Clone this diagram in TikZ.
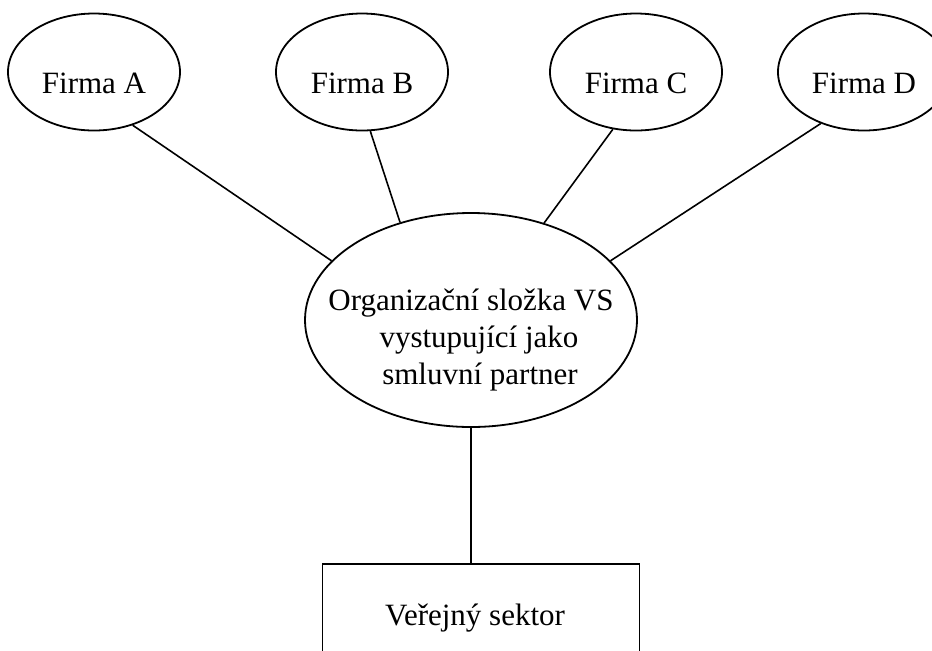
\documentclass[tikz,border=0pt]{standalone}
\usepackage{fontspec}
\setmainfont{Liberation Serif}
\usetikzlibrary{shapes.geometric}

\begin{document}
\begin{tikzpicture}[
    x=0.5pt, y=-0.5pt,
    font=\fontsize{15.5}{18.5}\selectfont,
    firma/.style={draw, ellipse, line width=0.9pt, inner sep=0pt, minimum width=86pt, minimum height=58.5pt, text height=21.5pt, text depth=0pt},
    partner/.style={draw, ellipse, line width=0.9pt, inner xsep=-20pt, inner ysep=0pt, minimum width=166pt, minimum height=107pt},
    box/.style={draw, line width=0.9pt, minimum width=158.5pt, minimum height=54pt},
    link/.style={line width=0.8pt}
  ]
    \useasboundingbox (0,0) rectangle (932,650);
    \clip (0,0) rectangle (932,650);
    \node[firma] (firmaA) at (94,72) {Firma A};
    \node[firma] (firmaB) at (362,72) {Firma B};
    \node[firma] (firmaC) at (636,72) {Firma C};
    \node[firma] (firmaD) at (864,72) {Firma D};
    \node[partner] (vs) at (471,320) {\raisebox{-10pt}[\height][\depth]{\begin{tabular}{@{}c@{}}Organizační složka VS\\\hspace*{8pt}vystupující jako\\\hspace*{9pt}smluvní partner\end{tabular}}};
    \node[box] (sektor) at (481,618) {Veřejný sektor\hspace*{6pt}};
    \draw[link] (firmaA.306) -- (vs.157.6);
    \draw[link] (firmaB.278) -- (vs.126.6);
    \draw[link] (firmaC.248) -- (vs.53.4);
    \draw[link] (firmaD.230) -- (vs.23.7);
    \draw[link] (vs.south) -- (vs.south |- sektor.north);
\end{tikzpicture}
\end{document}
